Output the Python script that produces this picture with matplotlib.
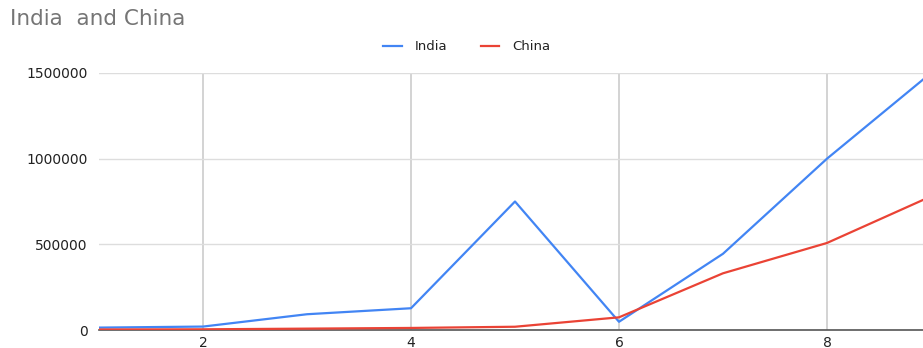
import matplotlib.pyplot as plt

plt.rcParams['font.family'] = ['DejaVu Sans']

# data
x = [1, 2, 3, 4, 5, 6, 7, 8, 9]
india = [14000, 20000, 92000, 127000, 750000, 48000, 445000, 1000000, 1500000]
china = [3000, 4000, 8000, 12000, 19000, 74000, 331000, 508000, 780000]

fig = plt.figure(figsize=(9.23, 3.48), dpi=100)
ax = fig.add_axes([99 / 923, 18 / 348, 832 / 923, 257 / 348])

ax.plot(x, india, color='#4285F4', lw=1.6, label='India', zorder=3)
ax.plot(x, china, color='#EA4335', lw=1.6, label='China', zorder=3)

ax.set_xlim(1, 9)
ax.set_ylim(0, 1500000)
ax.set_xticks([2, 4, 6, 8])
ax.set_yticks([0, 500000, 1000000, 1500000])
ax.set_yticklabels(['0', '500000', '1000000', '1500000'])
ax.tick_params(length=0, labelsize=10, colors='#222222')
ax.tick_params(axis='y', pad=8)
ax.tick_params(axis='x', pad=4)

ax.grid(axis='y', color='#dddddd', lw=1)
ax.grid(axis='x', color='#cccccc', lw=1.2)
for s in ['top', 'right', 'left']:
    ax.spines[s].set_visible(False)
ax.spines['bottom'].set_color('#555555')
ax.spines['bottom'].set_linewidth(1.2)

fig.text(10 / 923, 1 - 19 / 348, 'India  and China', fontsize=15.5,
         color='#757575', va='center', ha='left')

fig.legend(loc='center', bbox_to_anchor=(467 / 923, 1 - 47 / 348), ncol=2,
           frameon=False, fontsize=9.5, handlelength=1.4, columnspacing=2.5,
           handletextpad=1.0, labelcolor='#222222')

fig.savefig('out.png', dpi=100)
